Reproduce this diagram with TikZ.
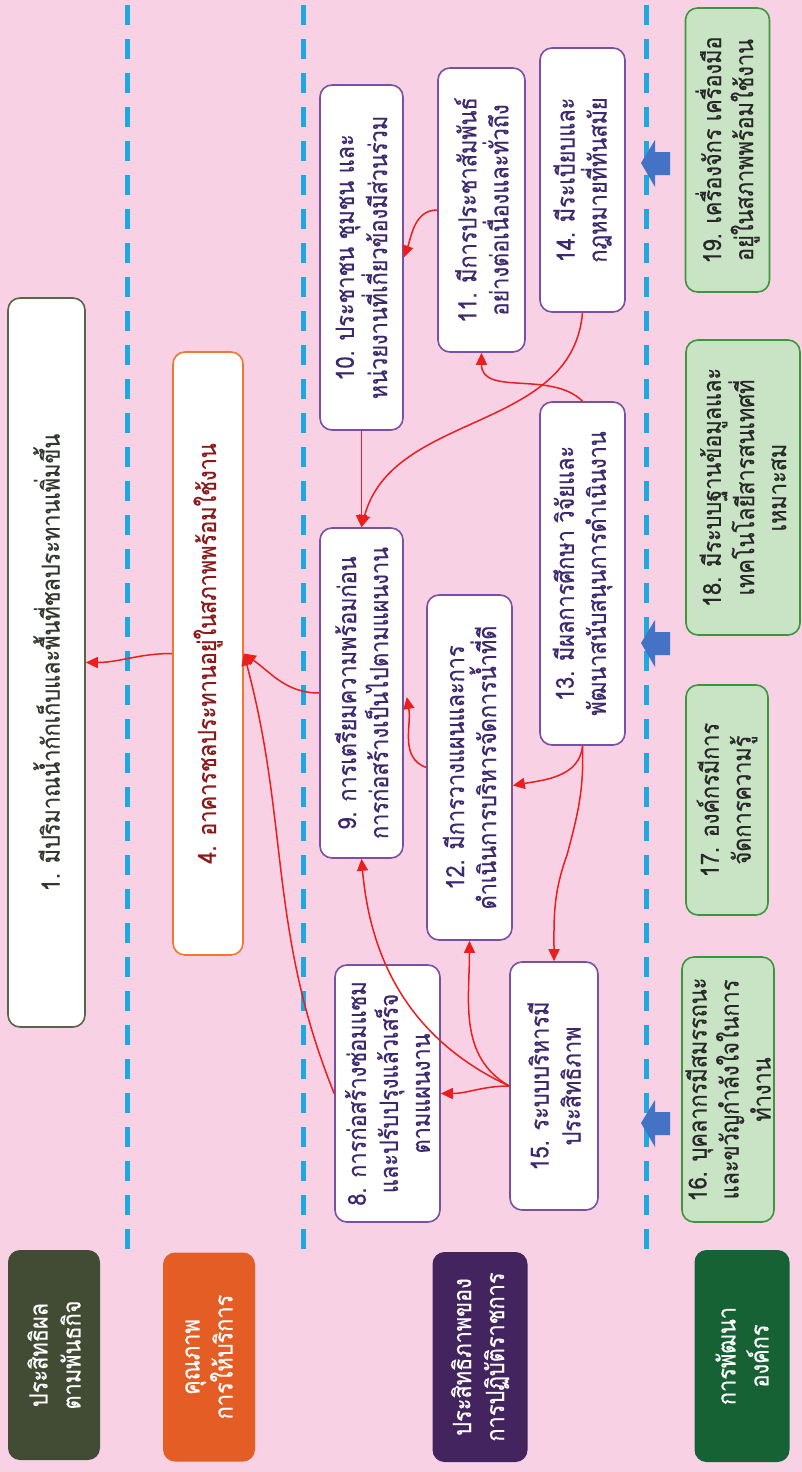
\documentclass[tikz,border=0pt]{standalone}
\usepackage{fontspec}
\setmainfont[Script=Thai,FakeStretch=0.87,FakeBold=0.5]{Loma}
\usetikzlibrary{arrows.meta,calc}
\definecolor{bgpink}{RGB}{248,210,228}
\definecolor{oliveb}{RGB}{90,100,72}
\definecolor{olivet}{RGB}{50,55,45}
\definecolor{orgb}{RGB}{240,120,50}
\definecolor{orgt}{RGB}{140,25,25}
\definecolor{purb}{RGB}{120,80,165}
\definecolor{purt}{RGB}{60,40,110}
\definecolor{grnf}{RGB}{200,228,196}
\definecolor{grnb}{RGB}{60,150,60}
\definecolor{grnt}{RGB}{40,40,40}
\definecolor{catA}{RGB}{66,76,52}
\definecolor{catB}{RGB}{228,93,37}
\definecolor{catC}{RGB}{68,36,95}
\definecolor{catD}{RGB}{22,98,52}
\definecolor{arrred}{RGB}{235,30,30}
\definecolor{blkblue}{RGB}{68,114,196}
\definecolor{dashblue}{RGB}{30,168,224}
\begin{document}
\begin{tikzpicture}[x=1pt,y=-1pt,
  box/.style={rotate=90, rounded corners=12pt, draw, line width=1.6pt, fill=white,
    align=center, inner sep=2pt, font=\fontsize{25}{32}\selectfont},
  boxA/.style={box, draw=oliveb, text=olivet},
  boxB/.style={box, draw=orgb, text=orgt},
  boxC/.style={box, draw=purb, text=purt},
  boxD/.style={box, draw=grnb, fill=grnf, text=grnt},
  cat/.style={rotate=90, rounded corners=12pt, text=white, align=center, inner sep=2pt,
    font=\fontsize{25}{33}\selectfont},
  dashline/.style={dashblue, line width=5pt, dash pattern=on 20pt off 14pt},
  rarrow/.style={arrred, line width=1.5pt, -{Triangle[length=12pt,width=11pt]}},
]
\fill[bgpink] (0,0) rectangle (802,1472);
\useasboundingbox (0,0) rectangle (802,1472);

% dashed separators
\draw[dashline] (127,5) -- (127,1250);
\draw[dashline] (303,5) -- (303,1252);
\draw[dashline] (646,5) -- (646,1252);

% category boxes
\node[cat, fill=catA, minimum width=210pt, minimum height=92pt] (cA) at (54,1355) {ประสิทธิผล\\ตามพันธกิจ};
\node[cat, fill=catB, minimum width=209pt, minimum height=92pt] (cB) at (209,1357) {คุณภาพ\\การให้บริการ};
\node[cat, fill=catC, minimum width=210pt, minimum height=95pt] (cC) at (480,1357) {ประสิทธิภาพของ\\การปฏิบัติราชการ};
\node[cat, fill=catD, minimum width=212pt, minimum height=95pt] (cD) at (742,1356) {การพัฒนา\\องค์กร};

% boxes
\node[boxA, minimum width=729pt, minimum height=77pt] (n1) at (46.5,662.5) {1. มีปริมาณน้ำกักเก็บและพื้นที่ชลประทานเพิ่มขึ้น};
\node[boxB, minimum width=603pt, minimum height=70pt] (n4) at (208,653.5) {4. อาคารชลประทานอยู่ในสภาพพร้อมใช้งาน};

\node[boxC, minimum width=345pt, minimum height=83pt] (n10) at (361.5,257.5) {10. ประชาชน ชุมชน และ\\หน่วยงานที่เกี่ยวข้องมีส่วนร่วม};
\node[boxC, minimum width=284pt, minimum height=87pt] (n11) at (481.5,210) {11. มีการประชาสัมพันธ์\\อย่างต่อเนื่องและทั่วถึง};
\node[boxC, minimum width=264pt, minimum height=85pt] (n14) at (582.5,180) {14. มีระเบียบและ\\กฎหมายที่ทันสมัย};
\node[boxC, minimum width=330pt, minimum height=83pt] (n9) at (361.5,693) {9. การเตรียมความพร้อมก่อน\\การก่อสร้างเป็นไปตามแผนงาน};
\node[boxC, minimum width=345pt, minimum height=85pt] (n12) at (469.5,767.5) {12. มีการวางแผนและการ\\ดำเนินการบริหารจัดการน้ำที่ดี};
\node[boxC, minimum width=343pt, minimum height=85pt] (n13) at (582.5,573.5) {13. มีผลการศึกษา วิจัยและ\\พัฒนาสนับสนุนการดำเนินงาน};
\node[boxC, minimum width=257pt, minimum height=105pt] (n8) at (387.5,1093.5) {8. การก่อสร้างซ่อมแซม\\และปรับปรุงแล้วเสร็จ\\ตามแผนงาน};
\node[boxC, minimum width=248pt, minimum height=88pt] (n15) at (554,1086) {15. ระบบบริหารมี\\ประสิทธิภาพ};

\node[boxD, minimum width=265pt, minimum height=92pt] (n16) at (728,1089.5) {16. บุคลากรมีสมรรถนะ\\และขวัญกำลังใจในการ\\ทำงาน};
\node[boxD, minimum width=230pt, minimum height=82pt] (n17) at (727,800) {17. องค์กรมีการ\\จัดการความรู้};
\node[boxD, minimum width=295pt, minimum height=114pt] (n18) at (743,487.5) {18. มีระบบฐานข้อมูลและ\\เทคโนโลยีสารสนเทศที่\\เหมาะสม};
\node[boxD, minimum width=284pt, minimum height=84pt] (n19) at (727.5,150) {19. เครื่องจักร เครื่องมือ\\อยู่ในสภาพพร้อมใช้งาน};

% blue block arrows
\foreach \cy in {163,643,1123}{
  \fill[blkblue] (641,\cy) -- (655,\cy-23) -- (655,\cy-11) -- (670,\cy-11)
    -- (670,\cy+12) -- (655,\cy+12) -- (655,\cy+24) -- cycle;
}

% red connectors
\draw[rarrow] (n4.north) to[out=180,in=0] (n1.south);
\draw[rarrow] (n9.north) to[out=180,in=-35] (n4.south);
\draw[rarrow] (n8.north) to[out=112,in=-75] (n4.south);
\draw[rarrow] (n10.west) -- (n9.east);
\draw[rarrow] (n14.west) to[out=-95,in=75] (n9.east);
\draw[rarrow] (n11.north) to[out=180,in=70] (n10.south);
\draw[rarrow] (n13.east) to[out=135,in=-90] (n11.west);
\draw[rarrow] (n12.north) to[out=160,in=-80] ($(n9.south)+(3,4)$);
\draw[rarrow] (n13.west) to[out=-95,in=10] ($(n12.south)+(0,18)$);
\draw[rarrow] (n13.west) to[out=-88,in=75] (567,855) to[out=-110,in=90] (n15.east);
\draw[rarrow] (n15.north) to[out=180,in=0] (n8.south);
\draw[rarrow] (n15.north) to[out=150,in=-90] (n12.west);
\draw[rarrow] (n15.north) to[out=155,in=-85] (n9.west);
\end{tikzpicture}
\end{document}
